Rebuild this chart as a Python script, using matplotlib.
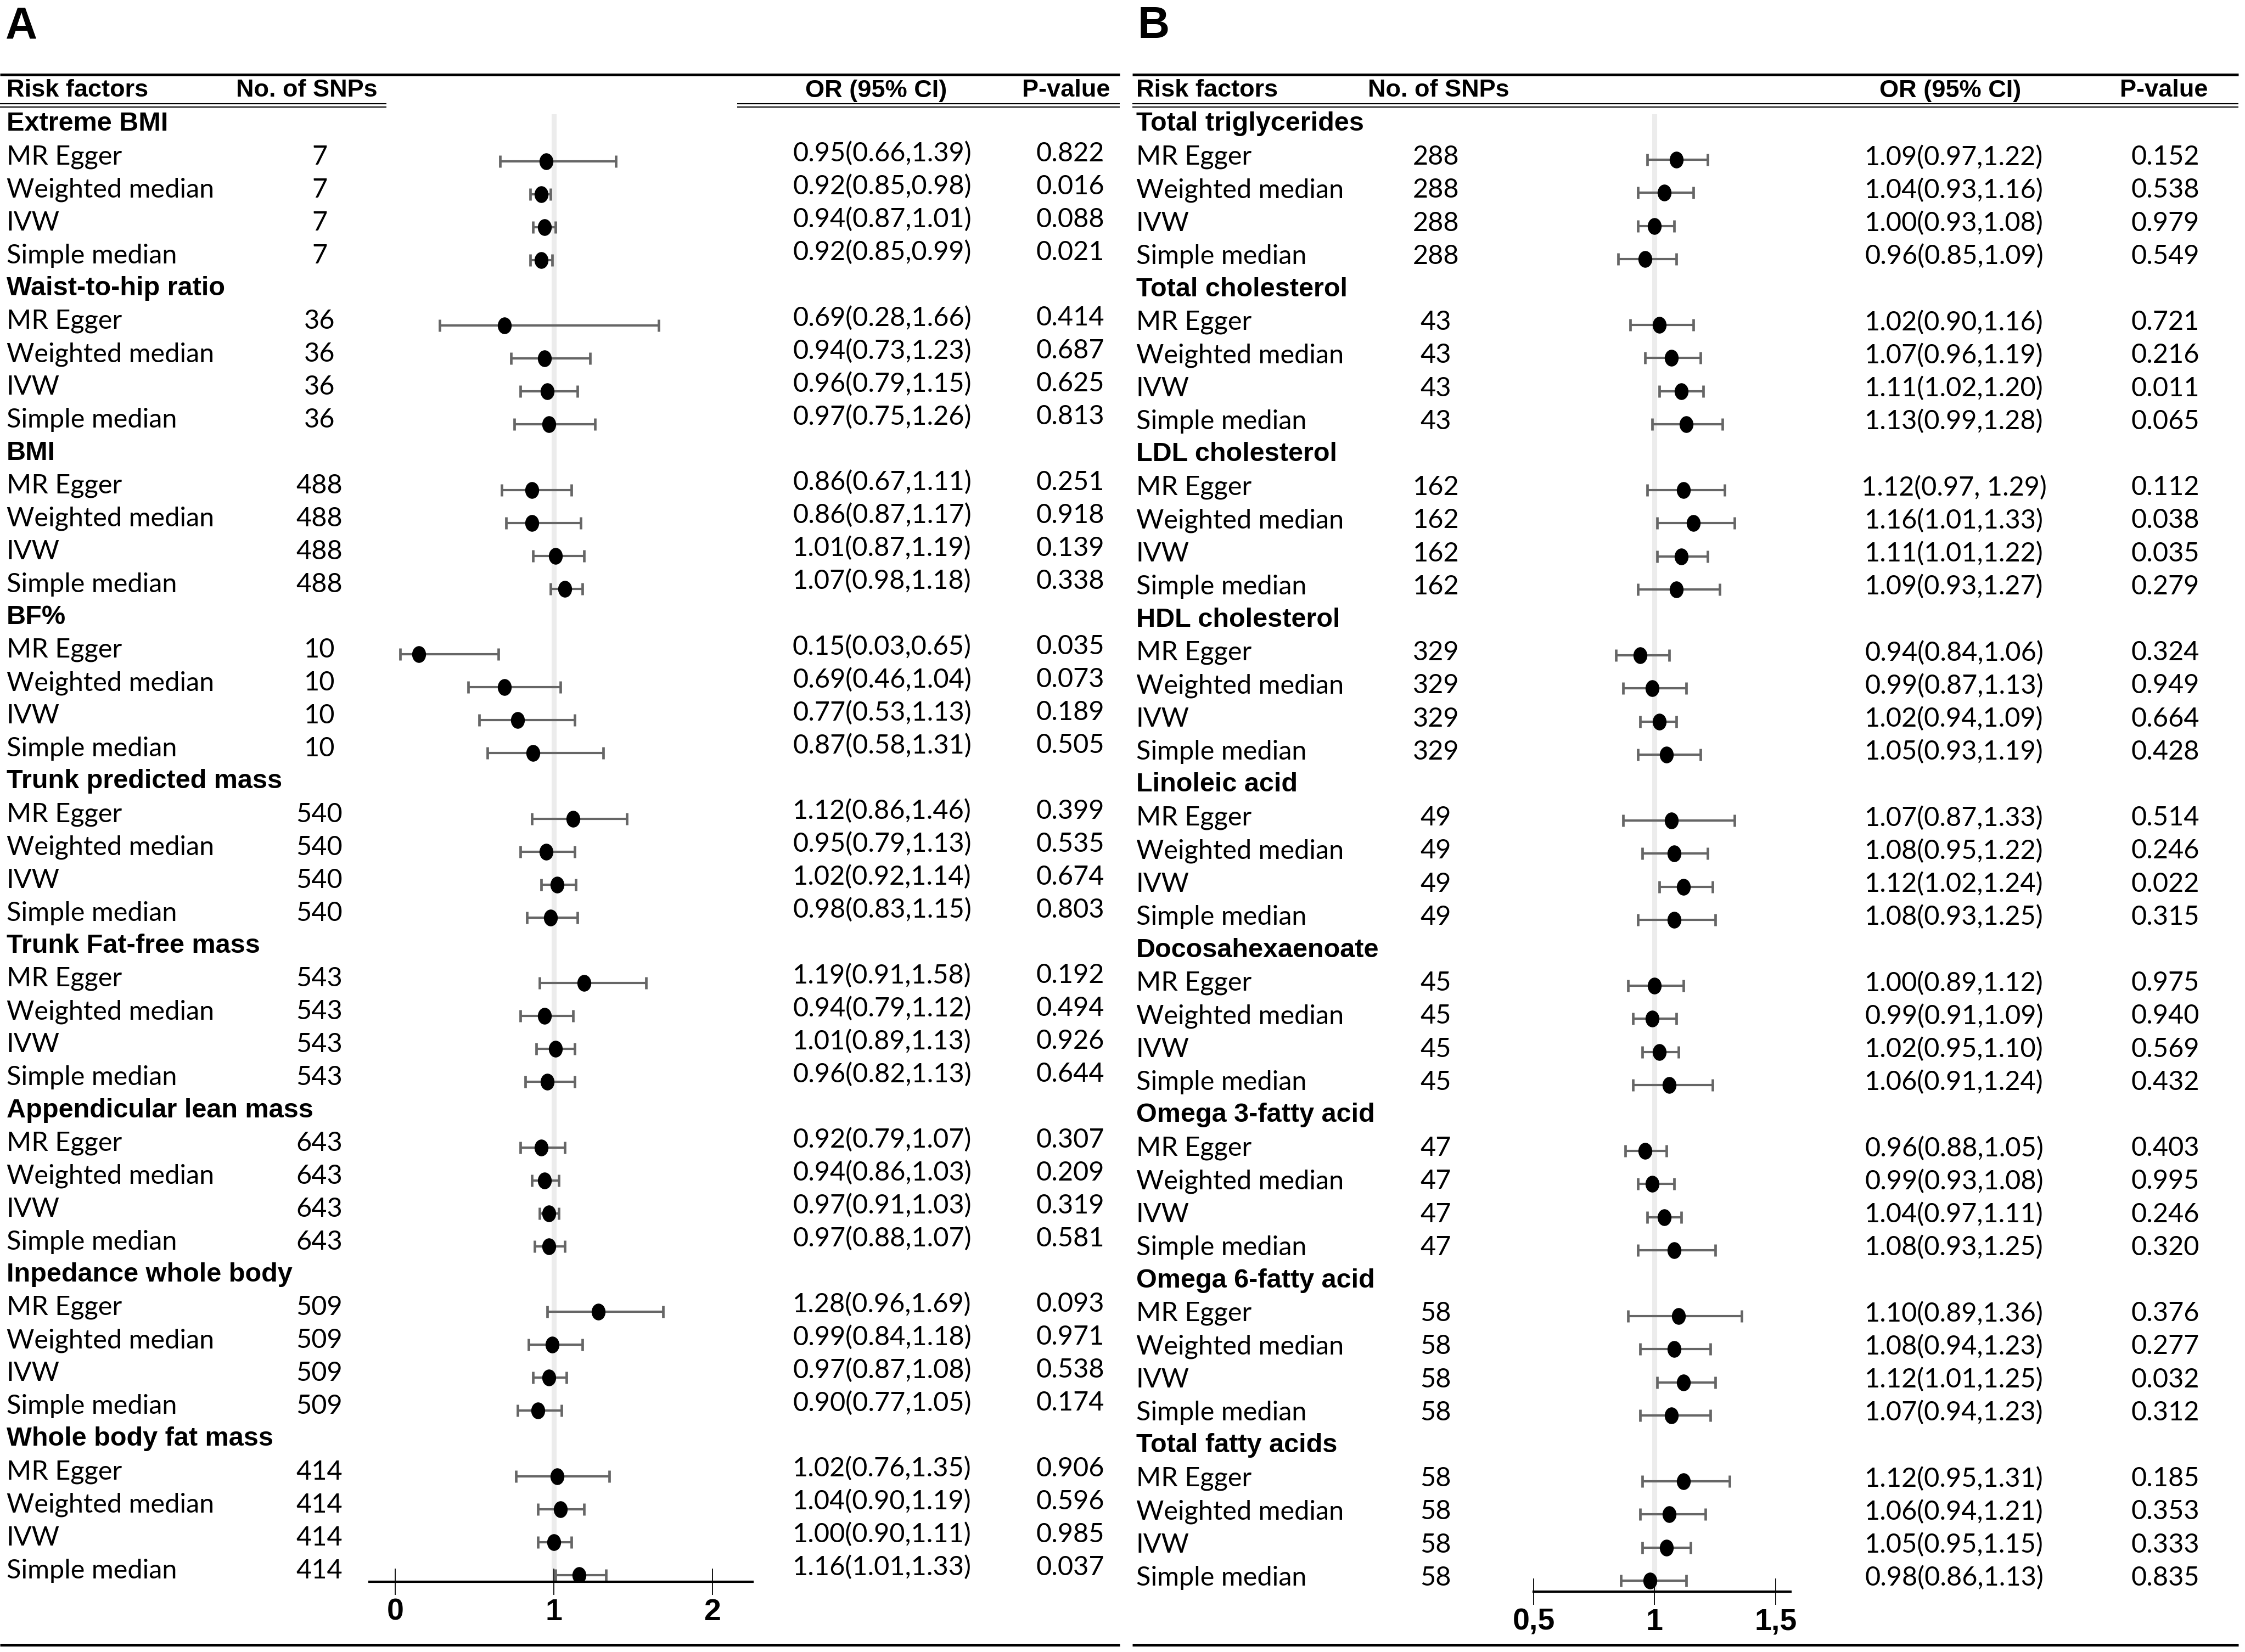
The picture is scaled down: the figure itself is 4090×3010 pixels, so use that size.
import numpy as np
import matplotlib
matplotlib.use("Agg")
import matplotlib.pyplot as plt
from matplotlib.path import Path
from matplotlib.transforms import Affine2D

# ---- data, panel A (anthropometric traits) ----
groups_a = ["Extreme BMI", "Waist-to-hip ratio", "BMI", "BF%", "Trunk predicted mass",
            "Trunk Fat-free mass", "Appendicular lean mass", "Inpedance whole body",
            "Whole body fat mass"]
snps_a = [7, 36, 488, 10, 540, 543, 643, 509, 414]
or_a = [0.95, 0.92, 0.94, 0.92, 0.69, 0.94, 0.96, 0.97, 0.86, 0.86, 1.01, 1.07,
        0.15, 0.69, 0.77, 0.87, 1.12, 0.95, 1.02, 0.98, 1.19, 0.94, 1.01, 0.96,
        0.92, 0.94, 0.97, 0.97, 1.28, 0.99, 0.97, 0.90, 1.02, 1.04, 1.00, 1.16]
lo_a = [0.66, 0.85, 0.87, 0.85, 0.28, 0.73, 0.79, 0.75, 0.67, 0.70, 0.87, 0.98,
        0.03, 0.46, 0.53, 0.58, 0.86, 0.79, 0.92, 0.83, 0.91, 0.79, 0.89, 0.82,
        0.79, 0.86, 0.91, 0.88, 0.96, 0.84, 0.87, 0.77, 0.76, 0.90, 0.90, 1.01]
hi_a = [1.39, 0.98, 1.01, 0.99, 1.66, 1.23, 1.15, 1.26, 1.11, 1.17, 1.19, 1.18,
        0.65, 1.04, 1.13, 1.31, 1.46, 1.13, 1.14, 1.15, 1.58, 1.12, 1.13, 1.13,
        1.07, 1.03, 1.03, 1.07, 1.69, 1.18, 1.08, 1.05, 1.35, 1.19, 1.11, 1.33]
ci_text_a = ["0.95(0.66,1.39)", "0.92(0.85,0.98)", "0.94(0.87,1.01)", "0.92(0.85,0.99)",
             "0.69(0.28,1.66)", "0.94(0.73,1.23)", "0.96(0.79,1.15)", "0.97(0.75,1.26)",
             "0.86(0.67,1.11)", "0.86(0.87,1.17)", "1.01(0.87,1.19)", "1.07(0.98,1.18)",
             "0.15(0.03,0.65)", "0.69(0.46,1.04)", "0.77(0.53,1.13)", "0.87(0.58,1.31)",
             "1.12(0.86,1.46)", "0.95(0.79,1.13)", "1.02(0.92,1.14)", "0.98(0.83,1.15)",
             "1.19(0.91,1.58)", "0.94(0.79,1.12)", "1.01(0.89,1.13)", "0.96(0.82,1.13)",
             "0.92(0.79,1.07)", "0.94(0.86,1.03)", "0.97(0.91,1.03)", "0.97(0.88,1.07)",
             "1.28(0.96,1.69)", "0.99(0.84,1.18)", "0.97(0.87,1.08)", "0.90(0.77,1.05)",
             "1.02(0.76,1.35)", "1.04(0.90,1.19)", "1.00(0.90,1.11)", "1.16(1.01,1.33)"]
p_a = ["0.822", "0.016", "0.088", "0.021", "0.414", "0.687", "0.625", "0.813",
       "0.251", "0.918", "0.139", "0.338", "0.035", "0.073", "0.189", "0.505",
       "0.399", "0.535", "0.674", "0.803", "0.192", "0.494", "0.926", "0.644",
       "0.307", "0.209", "0.319", "0.581", "0.093", "0.971", "0.538", "0.174",
       "0.906", "0.596", "0.985", "0.037"]

# ---- data, panel B (lipids and fatty acids) ----
groups_b = ["Total triglycerides", "Total cholesterol", "LDL cholesterol", "HDL cholesterol",
            "Linoleic acid", "Docosahexaenoate", "Omega 3-fatty acid", "Omega 6-fatty acid",
            "Total fatty acids"]
snps_b = [288, 43, 162, 329, 49, 45, 47, 58, 58]
or_b = [1.09, 1.04, 1.00, 0.96, 1.02, 1.07, 1.11, 1.13, 1.12, 1.16, 1.11, 1.09,
        0.94, 0.99, 1.02, 1.05, 1.07, 1.08, 1.12, 1.08, 1.00, 0.99, 1.02, 1.06,
        0.96, 0.99, 1.04, 1.08, 1.10, 1.08, 1.12, 1.07, 1.12, 1.06, 1.05, 0.98]
lo_b = [0.97, 0.93, 0.93, 0.85, 0.90, 0.96, 1.02, 0.99, 0.97, 1.01, 1.01, 0.93,
        0.84, 0.87, 0.94, 0.93, 0.87, 0.95, 1.02, 0.93, 0.89, 0.91, 0.95, 0.91,
        0.88, 0.93, 0.97, 0.93, 0.89, 0.94, 1.01, 0.94, 0.95, 0.94, 0.95, 0.86]
hi_b = [1.22, 1.16, 1.08, 1.09, 1.16, 1.19, 1.20, 1.28, 1.29, 1.33, 1.22, 1.27,
        1.06, 1.13, 1.09, 1.19, 1.33, 1.22, 1.24, 1.25, 1.12, 1.09, 1.10, 1.24,
        1.05, 1.08, 1.11, 1.25, 1.36, 1.23, 1.25, 1.23, 1.31, 1.21, 1.15, 1.13]
ci_text_b = ["1.09(0.97,1.22)", "1.04(0.93,1.16)", "1.00(0.93,1.08)", "0.96(0.85,1.09)",
             "1.02(0.90,1.16)", "1.07(0.96,1.19)", "1.11(1.02,1.20)", "1.13(0.99,1.28)",
             "1.12(0.97, 1.29)", "1.16(1.01,1.33)", "1.11(1.01,1.22)", "1.09(0.93,1.27)",
             "0.94(0.84,1.06)", "0.99(0.87,1.13)", "1.02(0.94,1.09)", "1.05(0.93,1.19)",
             "1.07(0.87,1.33)", "1.08(0.95,1.22)", "1.12(1.02,1.24)", "1.08(0.93,1.25)",
             "1.00(0.89,1.12)", "0.99(0.91,1.09)", "1.02(0.95,1.10)", "1.06(0.91,1.24)",
             "0.96(0.88,1.05)", "0.99(0.93,1.08)", "1.04(0.97,1.11)", "1.08(0.93,1.25)",
             "1.10(0.89,1.36)", "1.08(0.94,1.23)", "1.12(1.01,1.25)", "1.07(0.94,1.23)",
             "1.12(0.95,1.31)", "1.06(0.94,1.21)", "1.05(0.95,1.15)", "0.98(0.86,1.13)"]
p_b = ["0.152", "0.538", "0.979", "0.549", "0.721", "0.216", "0.011", "0.065",
       "0.112", "0.038", "0.035", "0.279", "0.324", "0.949", "0.664", "0.428",
       "0.514", "0.246", "0.022", "0.315", "0.975", "0.940", "0.569", "0.432",
       "0.403", "0.995", "0.246", "0.320", "0.376", "0.277", "0.032", "0.312",
       "0.185", "0.353", "0.333", "0.835"]

methods = ["MR Egger", "Weighted median", "IVW", "Simple median"]
ticks_a = [0, 1, 2]
ticks_b = [0.5, 1, 1.5]
tick_labels_b = ["0,5", "1", "1,5"]

W, H = 4090, 3010
BODY = "Lato"
BOLD = "Liberation Sans"

fig = plt.figure(figsize=(W / 100, H / 100), dpi=100)
bg = fig.add_axes([0, 0, 1, 1])
bg.set_xlim(0, W)
bg.set_ylim(H, 0)
bg.axis("off")

# ellipse marker, a bit taller than wide
ellipse = Path.unit_circle().transformed(Affine2D().scale(0.82, 1.0))


def panel(letter, x0, x1, cols, groups, snps, est, lo, hi, ci_text, pvals,
          ax_px, xlim, ticks, tick_labels, y0, dy, dot_off, txt_off, axis_y, dbl_split):
    lab_x, snp_x, or_x, p_x, hdr_snp_x, hdr_or_x, hdr_p_x = cols
    bg.text(x0 + 10, 10, letter, fontsize=58, fontweight="bold", family=BOLD,
            ha="left", va="top")
    # table rules
    bg.plot([x0, x1], [136, 136], color="black", lw=3.6, solid_capstyle="butt")
    for yy in (189, 195):
        if dbl_split is None:
            bg.plot([x0, x1], [yy, yy], color="black", lw=1.5, solid_capstyle="butt")
        else:
            bg.plot([x0, dbl_split[0]], [yy, yy], color="black", lw=1.5, solid_capstyle="butt")
            bg.plot([dbl_split[1], x1], [yy, yy], color="black", lw=1.5, solid_capstyle="butt")
    bg.plot([x0, x1], [2997, 2997], color="black", lw=3.6, solid_capstyle="butt")

    hdr = dict(fontsize=32.5, fontweight="bold", family=BOLD, va="center")
    bg.text(lab_x, 165, "Risk factors", ha="left", **hdr)
    bg.text(hdr_snp_x, 165, "No. of SNPs", ha="left", **hdr)
    bg.text(hdr_or_x, 165, "OR (95% CI)", ha="center", **hdr)
    bg.text(hdr_p_x, 165, "P-value", ha="center", **hdr)

    body = dict(fontsize=35, family=BODY, va="center")
    rows = []
    k = 0
    for g, name in enumerate(groups):
        r0 = g * 5
        bg.text(lab_x, y0 + r0 * dy, name, ha="left", fontsize=35, fontweight="bold",
                family=BOLD, va="center")
        for m, meth in enumerate(methods):
            r = r0 + 1 + m
            y = y0 + r * dy
            bg.text(lab_x, y, meth, ha="left", **body)
            bg.text(snp_x, y, str(snps[g]), ha="center", **body)
            bg.text(or_x, y + txt_off, ci_text[k], ha="center", **body)
            bg.text(p_x, y + txt_off, pvals[k], ha="center", **body)
            rows.append(r)
            k += 1
    rows = np.array(rows, dtype=float)

    # forest plot axes
    left, right, top = ax_px
    ax = fig.add_axes([left / W, 1 - axis_y / H, (right - left) / W, (axis_y - top) / H])
    ax.set_facecolor("none")
    ax.set_xlim(*xlim)
    r_top = (top - y0 - dot_off) / dy
    r_bot = (axis_y - y0 - dot_off) / dy
    ax.set_ylim(r_bot, r_top)
    est, lo, hi = np.array(est), np.array(lo), np.array(hi)
    ax.axvline(1, color="#ececec", lw=6.5, zorder=0)
    ax.errorbar(est, rows, xerr=[est - lo, hi - est], fmt="none", ecolor="#666666",
                elinewidth=3.0, capsize=8.0, capthick=3.4, zorder=2)
    ax.plot(est, rows, ls="none", marker=ellipse, ms=21, color="black", zorder=3)
    for s in ("left", "right", "top"):
        ax.spines[s].set_visible(False)
    ax.spines["bottom"].set_linewidth(3.0)
    ax.set_yticks([])
    ax.set_xticks(ticks)
    ax.set_xticklabels(tick_labels, fontsize=40, fontweight="bold", family=BOLD)
    ax.tick_params(axis="x", direction="inout", length=35, width=1.3, pad=4)
    return ax


panel("A", 0, 2040, (12, 582, 1607, 1950, 430, 1596, 1942),
      groups_a, snps_a, or_a, lo_a, hi_a, ci_text_a, p_a,
      (673, 1371, 208), (-0.163, 2.253), ticks_a, [str(t) for t in ticks_a],
      y0=226, dy=59.9, dot_off=8, txt_off=-6, axis_y=2882, dbl_split=(704, 1343))

panel("B", 2063, 4078, (2070, 2616, 3560, 3945, 2492, 3553, 3942),
      groups_b, snps_b, or_b, lo_b, hi_b, ci_text_b, p_b,
      (2794, 3262, 208), (1 - (3012 - 2794) / 445, 1 + (3262 - 3012) / 445),
      ticks_b, tick_labels_b,
      y0=226, dy=60.2, dot_off=5, txt_off=0, axis_y=2900, dbl_split=None)

fig.savefig("out.png", dpi=100)
